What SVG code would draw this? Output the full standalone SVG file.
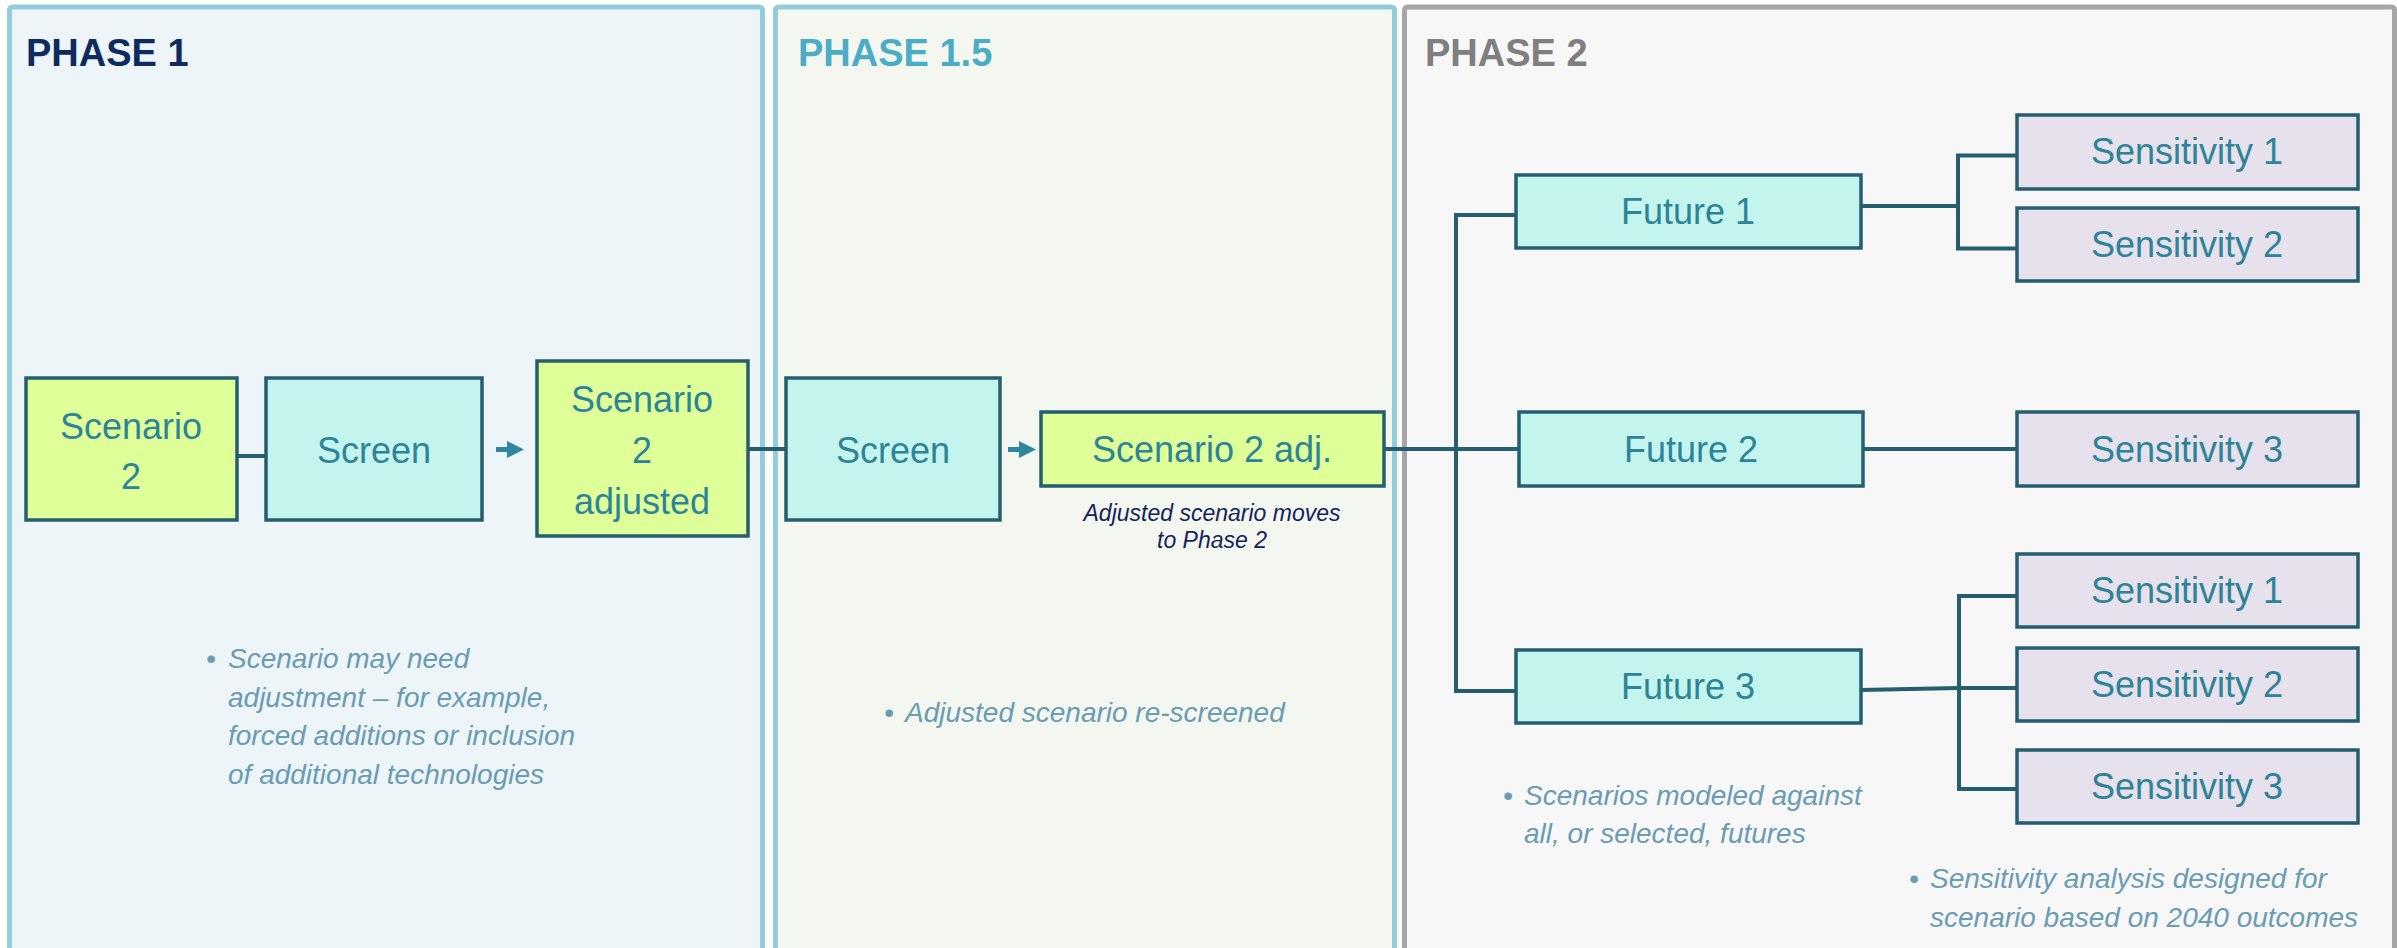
<svg xmlns="http://www.w3.org/2000/svg" width="2397" height="948" viewBox="0 0 2397 948">
<defs>
<style>
.panel{stroke-width:5}
.p1{fill:#EDF5F8;stroke:#93CDDD}
.p15{fill:#F4F7EF;stroke:#93CDDD}
.p2{fill:#F7F7F7;stroke:#A6A6A6}
.ph{font-family:"Liberation Sans",Arial,sans-serif;font-weight:bold;font-size:38px}
.box{stroke:#255E6E;stroke-width:3.5}
.yel{fill:#DFFF99}
.cyan{fill:#C4F4EE}
.lav{fill:#E6E1EC}
.lbl{font-family:"Liberation Sans",Arial,sans-serif;font-size:36px;fill:#2E8497;text-anchor:middle}
.bul{font-family:"Liberation Sans",Arial,sans-serif;font-size:28px;font-style:italic;fill:#6A9CB3}
.cap{font-family:"Liberation Sans",Arial,sans-serif;font-size:23px;font-style:italic;fill:#13245C;text-anchor:middle}
.ln{stroke:#255E6E;stroke-width:4;fill:none}
.arr{fill:#2E86A0}
</style>
</defs>
<rect width="2397" height="948" fill="#FFFFFF"/>
<g id="panels">
<rect class="panel p1" x="9.5" y="7" width="753" height="980" rx="3"/>
<rect class="panel p15" x="775.5" y="7" width="619" height="980" rx="3"/>
<rect class="panel p2" x="1404.5" y="7" width="990" height="980" rx="3"/>
<text class="ph" x="26" y="66" fill="#0E2A5E">PHASE 1</text>
<text class="ph" x="798" y="66" fill="#4BACC6">PHASE 1.5</text>
<text class="ph" x="1425" y="66" fill="#7F7F7F">PHASE 2</text>
</g>
<g id="connectors">
<line class="ln" x1="237" y1="456" x2="266" y2="456"/>
<line class="ln" x1="748" y1="449" x2="786" y2="449"/>
<line class="ln" x1="1384" y1="449" x2="1519" y2="449"/>
<line class="ln" x1="1456" y1="213" x2="1456" y2="693"/>
<line class="ln" x1="1454" y1="215" x2="1516" y2="215"/>
<line class="ln" x1="1454" y1="691" x2="1516" y2="691"/>
<line class="ln" x1="1861" y1="206" x2="1958" y2="206"/>
<polyline class="ln" points="2017,155.5 1958,155.5 1958,248.5 2017,248.5"/>
<line class="ln" x1="1863" y1="449" x2="2017" y2="449"/>
<line class="ln" x1="1861" y1="690" x2="1959" y2="688"/>
<polyline class="ln" points="2017,596 1959,596 1959,789 2017,789"/>
<line class="ln" x1="1959" y1="688" x2="2017" y2="688"/>
<polygon class="arr" points="496,447 507,447 507,441 524,449.5 507,458 507,452 496,452"/>
<polygon class="arr" points="1008,447 1019,447 1019,441 1036,449.5 1019,458 1019,452 1008,452"/>
</g>
<g id="n-scenario2">
<rect class="box yel" x="26" y="378" width="211" height="142"/>
<text class="lbl" x="131" y="439">Scenario</text>
<text class="lbl" x="131" y="489">2</text>
</g>
<g id="n-screen1">
<rect class="box cyan" x="266" y="378" width="216" height="142"/>
<text class="lbl" x="374" y="463">Screen</text>
</g>
<g id="n-scenario2adjusted">
<rect class="box yel" x="537" y="361" width="211" height="175"/>
<text class="lbl" x="642" y="412">Scenario</text>
<text class="lbl" x="642" y="463">2</text>
<text class="lbl" x="642" y="514">adjusted</text>
</g>
<g id="n-bullet1">
<text class="bul"><tspan x="206" y="668">•</tspan><tspan x="228" y="668">Scenario may need</tspan><tspan x="228" y="707">adjustment – for example,</tspan><tspan x="228" y="745">forced additions or inclusion</tspan><tspan x="228" y="784">of additional technologies</tspan></text>
</g>
<g id="n-screen2">
<rect class="box cyan" x="786" y="378" width="214" height="142"/>
<text class="lbl" x="893" y="463">Screen</text>
</g>
<g id="n-scenario2adj">
<rect class="box yel" x="1041" y="412" width="343" height="74"/>
<text class="lbl" x="1212" y="462">Scenario 2 adj.</text>
<text class="cap"><tspan x="1212" y="521">Adjusted scenario moves</tspan><tspan x="1212" y="548">to Phase 2</tspan></text>
</g>
<g id="n-bullet15">
<text class="bul"><tspan x="884" y="722">•</tspan><tspan x="905" y="722">Adjusted scenario re-screened</tspan></text>
</g>
<g id="n-future1">
<rect class="box cyan" x="1516" y="175" width="345" height="73"/>
<text class="lbl" x="1688" y="224">Future 1</text>
</g>
<g id="n-future2">
<rect class="box cyan" x="1519" y="412" width="344" height="74"/>
<text class="lbl" x="1691" y="462">Future 2</text>
</g>
<g id="n-future3">
<rect class="box cyan" x="1516" y="650" width="345" height="73"/>
<text class="lbl" x="1688" y="699">Future 3</text>
</g>
<g id="n-sens1a">
<rect class="box lav" x="2017" y="115" width="341" height="74"/>
<text class="lbl" x="2187" y="164">Sensitivity 1</text>
</g>
<g id="n-sens2a">
<rect class="box lav" x="2017" y="208" width="341" height="73"/>
<text class="lbl" x="2187" y="257">Sensitivity 2</text>
</g>
<g id="n-sens3a">
<rect class="box lav" x="2017" y="412" width="341" height="74"/>
<text class="lbl" x="2187" y="462">Sensitivity 3</text>
</g>
<g id="n-sens1b">
<rect class="box lav" x="2017" y="554" width="341" height="73"/>
<text class="lbl" x="2187" y="603">Sensitivity 1</text>
</g>
<g id="n-sens2b">
<rect class="box lav" x="2017" y="648" width="341" height="73"/>
<text class="lbl" x="2187" y="697">Sensitivity 2</text>
</g>
<g id="n-sens3b">
<rect class="box lav" x="2017" y="750" width="341" height="73"/>
<text class="lbl" x="2187" y="799">Sensitivity 3</text>
</g>
<g id="n-bullet2a">
<text class="bul"><tspan x="1503" y="805">•</tspan><tspan x="1524" y="805">Scenarios modeled against</tspan><tspan x="1524" y="843">all, or selected, futures</tspan></text>
</g>
<g id="n-bullet2b">
<text class="bul"><tspan x="1909" y="888">•</tspan><tspan x="1930" y="888">Sensitivity analysis designed for</tspan><tspan x="1930" y="927">scenario based on 2040 outcomes</tspan></text>
</g>
</svg>
